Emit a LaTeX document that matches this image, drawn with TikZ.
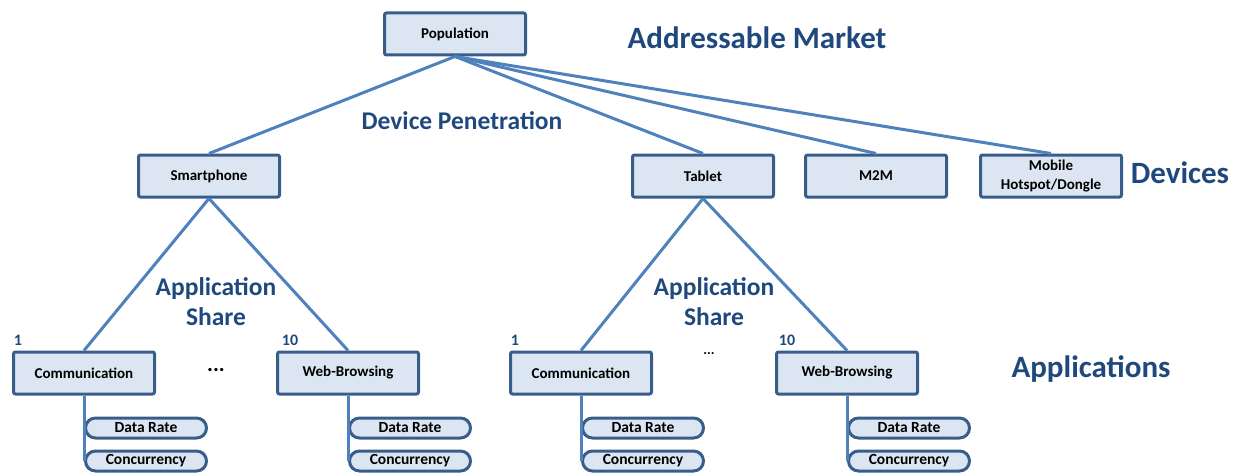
\documentclass[tikz,border=0pt]{standalone}
\usepackage{fontspec}
\setmainfont{Carlito}
\usetikzlibrary{shapes,positioning}

\definecolor{boxfill}{RGB}{220,230,242}
\definecolor{boxline}{RGB}{56,93,138}
\definecolor{linkblue}{RGB}{79,129,189}
\definecolor{labelblue}{RGB}{31,73,125}

\begin{document}
\begin{tikzpicture}[
    x=1pt, y=-1pt,
    box/.style={rectangle, rounded corners=2pt, draw=boxline, fill=boxfill, line width=3pt, minimum width=141pt, minimum height=42pt, align=center, font=\fontsize{15}{19}\selectfont\bfseries},
    metric/.style={rounded rectangle, draw=boxline, fill=boxfill, line width=3pt, minimum width=123pt, minimum height=20pt, inner sep=1pt, font=\fontsize{15.5}{16}\selectfont\bfseries},
    link/.style={draw=linkblue, line width=3pt},
    level/.style={text=labelblue, font=\fontsize{31}{34}\selectfont\bfseries},
    share/.style={text=labelblue, align=center, font=\fontsize{25.5}{30}\selectfont\bfseries},
    rank/.style={text=labelblue, font=\fontsize{16}{16}\selectfont\bfseries}
]
\useasboundingbox (0,0) rectangle (1239,476);

% Market and devices
\node[box] (pop) at (455,34) {Population};
\node[box] (smart) at (209,176) {Smartphone};
\node[box] (tablet) at (703,176) {Tablet};
\node[box] (m2m) at (876,176) {M2M};
\node[box] (dongle) at (1051,176) {Mobile\\Hotspot/Dongle};

% Applications
\node[box] (comm1) at (84,373) {Communication};
\node[box] (web1) at (348,373) {Web-Browsing};
\node[box] (comm2) at (581,373) {Communication};
\node[box] (web2) at (847,373) {Web-Browsing};

% Metrics per application
\node[metric, anchor=west] (rate1) at ([yshift=-32.5pt]comm1.south) {Data Rate};
\node[metric, below=10pt of rate1] (conc1) {Concurrency};
\node[metric, anchor=west] (rate2) at ([yshift=-32.5pt]web1.south) {Data Rate};
\node[metric, below=10pt of rate2] (conc2) {Concurrency};
\node[metric, anchor=west] (rate3) at ([yshift=-32.5pt]comm2.south) {Data Rate};
\node[metric, below=10pt of rate3] (conc3) {Concurrency};
\node[metric, anchor=west] (rate4) at ([yshift=-32.5pt]web2.south) {Data Rate};
\node[metric, below=10pt of rate4] (conc4) {Concurrency};

% Level labels
\node[level] (market) at (757,38) {Addressable Market};
\node[level] (devices) at (1180,173) {Devices};
\node[level] (apps) at (1091,369) {Applications};
\node[share] (penetration) at (462,121) {Device Penetration};
\node[share] (share1) at (216,302) {Application\\Share};
\node[share] (share2) at (714,302) {Application\\Share};

% Ranks and gaps
\node[rank] (first1) at (18,340) {1};
\node[rank] (last1) at (290,340) {10};
\node[rank] (first2) at (515,340) {1};
\node[rank] (last2) at (787,340) {10};
\node[font=\fontsize{22}{22}\selectfont\bfseries] (gap1) at (216,370) {...};
\node[font=\fontsize{14}{14}\selectfont\bfseries] (gap2) at (709,354) {...};

% Links
\draw[link] (pop.south) -- (smart.north);
\draw[link] (pop.south) -- (tablet.north);
\draw[link] (pop.south) -- (m2m.north);
\draw[link] (pop.south) -- (dongle.north);
\draw[link] (smart.south) -- (comm1.north);
\draw[link] (smart.south) -- (web1.north);
\draw[link] (tablet.south) -- (comm2.north);
\draw[link] (tablet.south) -- (web2.north);
\draw[link] (comm1.south) -- (conc1.west);
\draw[link] (web1.south) -- (conc2.west);
\draw[link] (comm2.south) -- (conc3.west);
\draw[link] (web2.south) -- (conc4.west);
\end{tikzpicture}
\end{document}
